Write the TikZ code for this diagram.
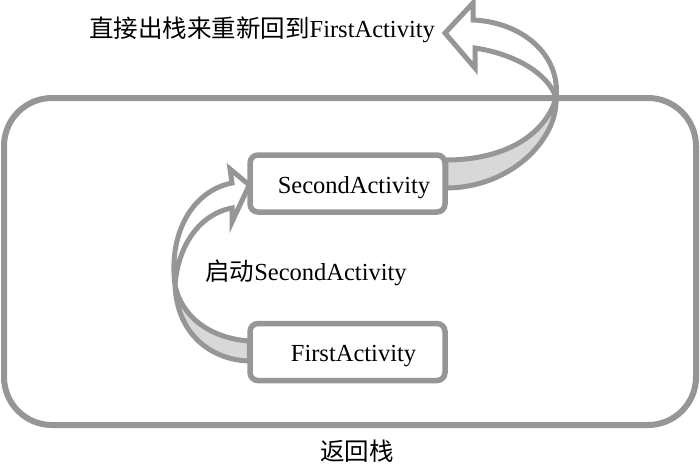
\documentclass[tikz,border=0pt]{standalone}
\usepackage{fontspec}
\setmainfont{Liberation Serif}
\newfontfamily\cjk{Noto Sans CJK SC}
\usetikzlibrary{calc}
\definecolor{lg}{RGB}{150,150,150}
\definecolor{shadegray}{RGB}{216,216,216}
\pgfdeclarelayer{bg}
\pgfsetlayers{bg,main}
\begin{document}
\begin{tikzpicture}[x=1pt,y=-1pt,
  frame/.style={draw=lg,line width=6pt,rounded corners=48pt,minimum width=692pt,minimum height=327pt,inner sep=0pt},
  actbox/.style={draw=lg,line width=5.5pt,rounded corners=8pt,fill=white,minimum width=195pt,minimum height=57pt,inner sep=0pt,text height=19pt,text depth=0pt,font=\fontsize{24.5}{28}\selectfont},
  lab/.style={inner sep=0pt,anchor=base,font=\fontsize{24.5}{28}\selectfont},
  backface/.style={draw=lg,line width=5pt,fill=shadegray,line join=round},
  frontface/.style={draw=lg,line width=5pt,fill=white,line join=miter}]
\useasboundingbox (0,0) rectangle (700,467);
\node[frame] (stack) at (350,261.5) {};
\node[actbox] (sec) at (347.5,183.5) {\hspace*{13pt}SecondActivity};
\node[actbox] (first) at (347.5,352) {\hspace*{12pt}FirstActivity};
\node[lab] (title) at (262,37) {{\cjk 直接出栈来重新回到}FirstActivity};
\node[lab] (start) at (306,280) {{\cjk 启动}SecondActivity};
\node[lab] (stacklabel) at (357,460) {\cjk 返回栈};
% right arrow: from SecondActivity out of the stack
\coordinate (rt) at ($(sec.east)+(-2,-23.5)$);
\coordinate (rb) at ($(sec.east)+(-2,4.5)$);
\coordinate (rtw) at (556,98);
\coordinate (rtip) at (445,33);
% left arrow: from FirstActivity to SecondActivity
\coordinate (lt) at ($(first.west)+(2,-11)$);
\coordinate (lb) at ($(first.west)+(2,9)$);
\coordinate (ltw) at (175,285);
\coordinate (ltip) at ($(sec.west)+(2,1.5)$);
\begin{pgfonlayer}{bg}
\draw[backface] (rt) .. controls (505,160) and (545,135) .. (rtw)
   .. controls (558,140) and (510,188) .. (rb) -- cycle;
\draw[frontface] (rtw) .. controls (561,55) and (522,22) .. (473,20) -- (473,3)
   -- (rtip) -- (475,68) -- (475,48) .. controls (515,54) and (549,74) .. (rtw) -- cycle;
\draw[backface] (lt) .. controls (208,338) and (181,315) .. (ltw)
   .. controls (177,335) and (212,360) .. (lb) -- cycle;
\draw[frontface] (ltw) .. controls (168,230) and (195,190) .. (232,183) -- (230,169)
   -- (ltip) -- (232,222) -- (232,208) .. controls (200,214) and (178,245) .. (ltw) -- cycle;
\end{pgfonlayer}
\end{tikzpicture}
\end{document}
